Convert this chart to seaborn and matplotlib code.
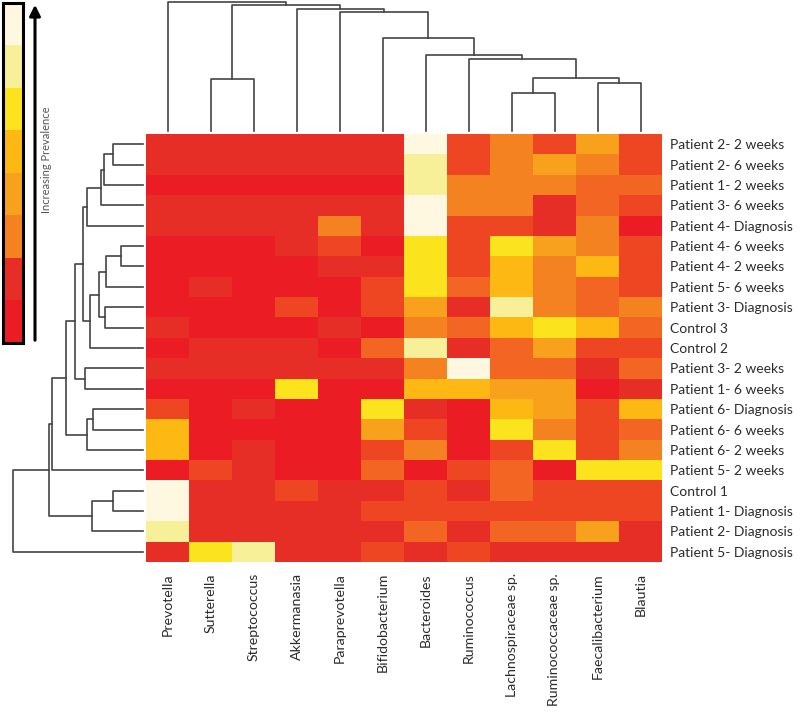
import seaborn as sns
import pandas as pd
import numpy as np
import matplotlib.pyplot as plt
from matplotlib.colors import LinearSegmentedColormap

# row / column labels in the clustered order
samples = ['Patient 2- 2 weeks', 'Patient 2- 6 weeks', 'Patient 1- 2 weeks', 'Patient 3- 6 weeks',
           'Patient 4- Diagnosis', 'Patient 4- 6 weeks', 'Patient 4- 2 weeks', 'Patient 5- 6 weeks',
           'Patient 3- Diagnosis', 'Control 3', 'Control 2', 'Patient 3- 2 weeks', 'Patient 1- 6 weeks',
           'Patient 6- Diagnosis', 'Patient 6- 6 weeks', 'Patient 6- 2 weeks', 'Patient 5- 2 weeks',
           'Control 1', 'Patient 1- Diagnosis', 'Patient 2- Diagnosis', 'Patient 5- Diagnosis']
genera = ['Prevotella', 'Sutterella', 'Streptococcus', 'Akkermanasia', 'Paraprevotella',
          'Bifidobacterium', 'Bacteroides', 'Ruminococcus', 'Lachnospiraceae sp.',
          'Ruminococcaceae sp.', 'Faecalibacterium', 'Blautia']

# prevalence level (0 = low, 9 = high)
prevalence = [
    [1, 1, 1, 1, 1, 1, 9, 2, 4, 2, 5, 2],
    [1, 1, 1, 1, 1, 1, 8, 2, 4, 5, 4, 2],
    [0, 0, 0, 0, 0, 0, 8, 4, 4, 4, 3, 3],
    [1, 1, 1, 1, 1, 1, 9, 4, 4, 1, 3, 2],
    [1, 1, 1, 1, 4, 1, 9, 2, 2, 1, 4, 0],
    [0, 0, 0, 1, 2, 0, 7, 2, 7, 5, 4, 2],
    [0, 0, 0, 0, 1, 1, 7, 2, 6, 4, 6, 2],
    [0, 1, 0, 0, 0, 2, 7, 3, 6, 4, 3, 2],
    [0, 0, 0, 2, 0, 2, 5, 1, 8, 4, 3, 4],
    [1, 0, 0, 0, 1, 0, 4, 3, 6, 7, 6, 3],
    [0, 1, 1, 1, 0, 3, 8, 1, 3, 5, 2, 2],
    [1, 1, 1, 1, 1, 1, 4, 9, 3, 3, 1, 3],
    [0, 0, 0, 7, 0, 0, 6, 6, 5, 5, 0, 1],
    [2, 0, 1, 0, 0, 7, 1, 0, 6, 5, 2, 6],
    [6, 0, 0, 0, 0, 5, 2, 0, 7, 4, 2, 3],
    [6, 0, 1, 0, 0, 2, 4, 0, 2, 7, 2, 4],
    [0, 2, 1, 0, 0, 3, 0, 2, 3, 0, 7, 7],
    [9, 1, 1, 2, 1, 1, 2, 1, 3, 2, 2, 2],
    [9, 1, 1, 1, 1, 2, 2, 2, 2, 2, 2, 2],
    [8, 1, 1, 1, 1, 1, 3, 1, 3, 3, 5, 1],
    [1, 7, 8, 1, 1, 2, 1, 2, 1, 1, 1, 1],
]

# dendrogram merges: (left id, right id, height); ids >= n are earlier merges
row_links = [(0, 1, 30), (21, 2, 39), (22, 3, 42.3), (23, 4, 56), (5, 6, 22), (25, 7, 37.3),
             (8, 9, 38), (26, 27, 44), (28, 10, 53), (24, 29, 60.3), (11, 12, 58), (30, 31, 67.5),
             (13, 14, 50.3), (33, 15, 56.3), (32, 34, 77), (35, 16, 90.3), (17, 18, 30),
             (37, 19, 51.3), (36, 38, 93.7), (39, 20, 129.7)]
col_links = [(1, 2, 52.7), (8, 9, 38.9), (10, 11, 48.9), (13, 14, 54), (7, 15, 73), (6, 16, 76.8),
             (5, 17, 94.7), (4, 18, 121), (3, 19, 124), (12, 20, 127.4), (0, 21, 130.9)]

# legend bands, top to bottom
legend_levels = [9, 8, 7, 6, 5, 4, 1, 0]

colors = ['#EC1C24', '#E72E26', '#EE4623', '#F26522', '#F58220',
          '#F8A11C', '#FDB813', '#FBE41A', '#F8EF98', '#FDF8DF']
cmap = LinearSegmentedColormap.from_list('prev', colors)

plt.rcParams['font.family'] = ['Lato', 'DejaVu Sans']
W, H = 800, 713
fig = plt.figure(figsize=(W / 100, H / 100), dpi=100)


def box(x0, y0, x1, y1):
    return [x0 / W, 1 - y1 / H, (x1 - x0) / W, (y1 - y0) / H]


# main heatmap
df = pd.DataFrame(prevalence, index=samples, columns=genera)
ax = fig.add_axes(box(146, 134, 662, 562))
sns.heatmap(df, ax=ax, cmap=cmap, vmin=0, vmax=9, cbar=False)
ax.yaxis.tick_right()
ax.set_yticks(np.arange(len(samples)) + 0.5)
ax.set_yticklabels(samples, rotation=0, fontsize=10, color='#2b2b2b')
ax.set_xticks(np.arange(len(genera)) + 0.5)
ax.set_xticklabels(genera, rotation=90, fontsize=10.2, color='#2b2b2b')
ax.tick_params(axis='both', length=0)
ax.tick_params(axis='x', pad=8)
ax.tick_params(axis='y', pad=6)
ax.set_xlabel('')
ax.set_ylabel('')


def draw_dendro(dax, links, n, side):
    pos = {i: i + 0.5 for i in range(n)}
    hgt = {i: 0.0 for i in range(n)}
    for k, (a, b, h) in enumerate(links):
        node = n + k
        pos[node] = (pos[a] + pos[b]) / 2
        hgt[node] = h
        p = [pos[a], pos[a], pos[b], pos[b]]
        d = [hgt[a], h, h, hgt[b]]
        if side == 'top':
            dax.plot(p, d, color='#444444', lw=1.2, clip_on=False)
        else:
            dax.plot(d, p, color='#444444', lw=1.2, clip_on=False)
    dax.axis('off')


# column dendrogram
axc = fig.add_axes(box(146, 2, 662, 131))
draw_dendro(axc, col_links, len(genera), 'top')
axc.set_xlim(0, len(genera))
axc.set_ylim(0, 130.9)

# row dendrogram
axr = fig.add_axes(box(13, 134, 143, 562))
draw_dendro(axr, row_links, len(samples), 'left')
axr.set_ylim(len(samples), 0)
axr.set_xlim(129.7, 0)

# prevalence legend bar
axl = fig.add_axes(box(3, 3, 23, 343))
sns.heatmap(pd.DataFrame({'level': legend_levels}), ax=axl, cmap=cmap, vmin=0, vmax=9,
            cbar=False, xticklabels=False, yticklabels=False)
for s in axl.spines.values():
    s.set_visible(True)
    s.set_linewidth(2.2)
    s.set_color('black')

# arrow and caption
ov = fig.add_axes([0, 0, 1, 1])
ov.set_xlim(0, W)
ov.set_ylim(H, 0)
ov.axis('off')
ov.annotate('', xy=(35, 2), xytext=(35, 343),
            arrowprops=dict(arrowstyle='-|>', color='black', lw=2.2, mutation_scale=16))
ov.text(47, 160, 'Increasing Prevalence', rotation=90, ha='center', va='center',
        fontsize=8, color='#555555')

fig.savefig('out.png', dpi=100)
